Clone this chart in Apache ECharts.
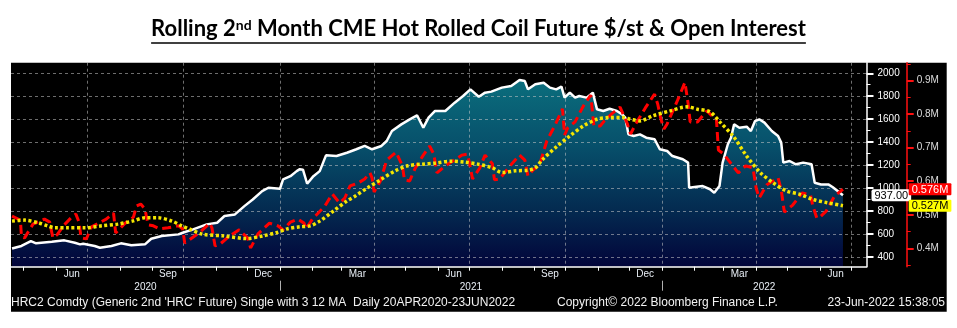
<!DOCTYPE html>
<html><head><meta charset="utf-8">
<script src="https://cdn.jsdelivr.net/npm/echarts@6/dist/echarts.min.js"></script>
<style>html,body{margin:0;padding:0;background:#fff}#c{width:957px;height:328px}</style>
</head><body><div id="c"></div>
<script>
// ---------- DATA ----------
const priceDates = ['2020-04-20','2020-04-29','2020-05-08','2020-05-13','2020-05-28','2020-06-09','2020-06-19','2020-06-24','2020-06-27','2020-07-08','2020-07-13','2020-07-24','2020-08-02','2020-08-12','2020-08-25','2020-08-31','2020-09-10','2020-09-26','2020-09-30','2020-10-10','2020-10-23','2020-11-02','2020-11-09','2020-11-19','2020-11-28','2020-12-06','2020-12-15','2020-12-21','2021-01-01','2021-01-04','2021-01-11','2021-01-17','2021-01-20','2021-01-23','2021-01-27','2021-02-02','2021-02-08','2021-02-14','2021-02-24','2021-03-06','2021-03-15','2021-03-23','2021-03-30','2021-04-08','2021-04-13','2021-04-18','2021-04-27','2021-05-05','2021-05-12','2021-05-18','2021-05-23','2021-05-29','2021-06-08','2021-06-17','2021-06-25','2021-07-02','2021-07-10','2021-07-16','2021-07-22','2021-08-01','2021-08-10','2021-08-18','2021-08-23','2021-08-26','2021-09-02','2021-09-10','2021-09-16','2021-09-22','2021-09-27','2021-09-30','2021-10-05','2021-10-10','2021-10-14','2021-10-21','2021-10-27','2021-10-31','2021-11-06','2021-11-12','2021-11-19','2021-11-24','2021-11-27','2021-11-30','2021-12-05','2021-12-11','2021-12-17','2021-12-25','2021-12-30','2022-01-06','2022-01-11','2022-01-21','2022-01-26','2022-01-27','2022-02-03','2022-02-09','2022-02-16','2022-02-20','2022-02-25','2022-02-28','2022-03-05','2022-03-08','2022-03-11','2022-03-16','2022-03-23','2022-03-27','2022-03-31','2022-04-04','2022-04-09','2022-04-16','2022-04-22','2022-04-25','2022-04-27','2022-05-03','2022-05-09','2022-05-16','2022-05-24','2022-05-27','2022-06-02','2022-06-09','2022-06-13','2022-06-18','2022-06-23'];
const priceValues = [474,496,539,519,533,545,524,510,516,496,481,496,519,502,510,559,583,597,611,641,684,698,757,771,843,901,974,1003,994,1076,1104,1148,1165,1160,1038,1104,1148,1285,1279,1308,1338,1367,1338,1367,1410,1497,1555,1599,1634,1526,1613,1671,1671,1744,1802,1860,1796,1831,1840,1875,1889,1941,1932,1860,1904,1918,1875,1860,1884,1788,1831,1788,1802,1788,1831,1686,1671,1691,1671,1642,1613,1468,1454,1468,1439,1425,1338,1323,1279,1251,1222,1004,1012,1018,990,959,1018,1222,1382,1439,1555,1526,1535,1497,1584,1599,1570,1497,1454,1396,1222,1236,1207,1222,1207,1047,1032,1032,1009,974,937];

const oiDates = ['2020-04-20','2020-04-28','2020-04-29','2020-05-02','2020-05-10','2020-05-21','2020-05-26','2020-05-29','2020-06-02','2020-06-08','2020-06-16','2020-06-20','2020-06-23','2020-06-25','2020-06-30','2020-07-05','2020-07-19','2020-07-26','2020-07-28','2020-08-01','2020-08-06','2020-08-14','2020-08-17','2020-08-21','2020-08-25','2020-08-28','2020-09-02','2020-09-08','2020-09-16','2020-09-26','2020-09-30','2020-10-02','2020-10-05','2020-10-17','2020-10-26','2020-10-28','2020-10-31','2020-11-05','2020-11-14','2020-11-23','2020-12-01','2020-12-04','2020-12-11','2020-12-22','2020-12-30','2021-01-04','2021-01-11','2021-01-18','2021-01-24','2021-01-26','2021-02-01','2021-02-13','2021-02-20','2021-02-27','2021-03-04','2021-03-09','2021-03-17','2021-03-23','2021-03-28','2021-03-30','2021-04-01','2021-04-07','2021-04-13','2021-04-22','2021-04-28','2021-04-30','2021-05-05','2021-05-10','2021-05-18','2021-05-24','2021-05-28','2021-05-31','2021-06-08','2021-06-24','2021-06-29','2021-07-01','2021-07-04','2021-07-11','2021-07-16','2021-07-23','2021-07-25','2021-07-30','2021-08-09','2021-08-18','2021-08-23','2021-08-26','2021-08-31','2021-09-06','2021-09-13','2021-09-21','2021-09-28','2021-09-30','2021-10-03','2021-10-10','2021-10-18','2021-10-25','2021-10-28','2021-11-03','2021-11-07','2021-11-14','2021-11-22','2021-11-29','2021-12-02','2021-12-07','2021-12-16','2021-12-25','2021-12-28','2021-12-31','2022-01-03','2022-01-06','2022-01-16','2022-01-23','2022-01-26','2022-01-28','2022-02-04','2022-02-13','2022-02-19','2022-02-22','2022-02-24','2022-03-01','2022-03-07','2022-03-15','2022-03-22','2022-03-29','2022-04-01','2022-04-04','2022-04-11','2022-04-22','2022-04-25','2022-04-28','2022-05-06','2022-05-15','2022-05-23','2022-05-25','2022-05-29','2022-06-01','2022-06-07','2022-06-15','2022-06-23'];
const oiValues = [0.496,0.484,0.434,0.431,0.472,0.487,0.478,0.431,0.440,0.467,0.493,0.502,0.478,0.431,0.428,0.464,0.487,0.505,0.446,0.458,0.475,0.493,0.526,0.532,0.517,0.470,0.467,0.458,0.461,0.467,0.458,0.416,0.422,0.449,0.475,0.461,0.407,0.413,0.437,0.455,0.431,0.401,0.443,0.475,0.467,0.455,0.478,0.487,0.475,0.458,0.487,0.526,0.562,0.535,0.550,0.586,0.595,0.607,0.625,0.610,0.568,0.601,0.663,0.687,0.646,0.604,0.601,0.637,0.678,0.705,0.681,0.625,0.646,0.678,0.681,0.657,0.607,0.640,0.678,0.652,0.604,0.607,0.646,0.678,0.663,0.616,0.634,0.648,0.720,0.768,0.816,0.738,0.759,0.777,0.825,0.857,0.765,0.765,0.780,0.801,0.821,0.771,0.741,0.771,0.818,0.860,0.830,0.786,0.756,0.771,0.842,0.895,0.833,0.777,0.777,0.810,0.792,0.789,0.693,0.681,0.657,0.625,0.646,0.640,0.580,0.550,0.589,0.610,0.574,0.508,0.529,0.565,0.559,0.529,0.490,0.493,0.511,0.556,0.576];

const maDates = ['2020-04-20','2020-05-02','2020-05-15','2020-05-24','2020-05-31','2020-06-12','2020-06-29','2020-07-15','2020-07-30','2020-08-13','2020-08-25','2020-09-06','2020-09-20','2020-09-29','2020-10-07','2020-10-19','2020-11-08','2020-11-30','2020-12-16','2020-12-29','2021-01-08','2021-01-20','2021-01-30','2021-02-08','2021-02-21','2021-03-06','2021-03-14','2021-03-26','2021-04-08','2021-04-21','2021-05-03','2021-05-17','2021-05-29','2021-06-14','2021-06-27','2021-07-09','2021-07-23','2021-08-01','2021-08-14','2021-08-26','2021-09-02','2021-09-09','2021-09-23','2021-10-05','2021-10-18','2021-10-31','2021-11-12','2021-11-25','2021-12-02','2021-12-11','2021-12-23','2022-01-09','2022-01-25','2022-02-04','2022-02-16','2022-02-26','2022-03-10','2022-03-23','2022-04-05','2022-04-17','2022-04-30','2022-05-13','2022-05-25','2022-06-08','2022-06-23'];
const maValues = [0.481,0.484,0.476,0.467,0.461,0.461,0.461,0.467,0.472,0.481,0.491,0.491,0.481,0.467,0.457,0.442,0.437,0.429,0.437,0.447,0.458,0.464,0.467,0.481,0.511,0.541,0.556,0.581,0.606,0.631,0.646,0.651,0.654,0.660,0.657,0.651,0.640,0.626,0.631,0.633,0.640,0.665,0.705,0.735,0.765,0.785,0.790,0.790,0.785,0.780,0.795,0.810,0.822,0.815,0.807,0.775,0.735,0.675,0.626,0.596,0.571,0.561,0.546,0.536,0.527];

// axis ticks / labels
const monthTicks = ['2020-05-01','2020-06-01','2020-07-01','2020-08-01','2020-09-01','2020-10-01','2020-11-01','2020-12-01','2021-01-01','2021-02-01','2021-03-01','2021-04-01','2021-05-01','2021-06-01','2021-07-01','2021-08-01','2021-09-01','2021-10-01','2021-11-01','2021-12-01','2022-01-01','2022-02-01','2022-03-01','2022-04-01','2022-05-01','2022-06-01','2022-07-01'];
const quarterLines = ['2020-07-01','2020-10-01','2021-01-01','2021-04-01','2021-07-01','2021-10-01','2022-01-01','2022-04-01','2022-07-01'];
const monthLabelDates = ['2020-06-16','2020-09-16','2020-12-16','2021-03-16','2021-06-16','2021-09-16','2021-12-16','2022-03-16','2022-06-16'];
const monthNames = ['Jan','Feb','Mar','Apr','May','Jun','Jul','Aug','Sep','Oct','Nov','Dec'];
const yearBounds = ['2021-01-01','2022-01-01'];
const yearLabels = ['2020','2021','2022'];
const priceTicks = [400,600,800,1000,1200,1400,1600,1800,2000];
const oiTicks = [0.4,0.5,0.6,0.7,0.8,0.9];

const titleParts = ['Rolling 2', 'nd', ' Month CME Hot Rolled Coil Future $/st & Open Interest'];
const footerLeft = "HRC2 Comdty (Generic 2nd 'HRC' Future) Single with 3 12 MA  Daily 20APR2020-23JUN2022";
const footerMid = 'Copyright\u00A9 2022 Bloomberg Finance L.P.';
const footerRight = '23-Jun-2022 15:38:05';

// ---------- LAYOUT ----------
const W = 957;
const ts = s => { const p = s.split('-'); return +new Date(+p[0], +p[1]-1, +p[2]); };
const xMin = +new Date(2020, 3, 19, 0, 0);
const xMax = +new Date(2022, 6, 15, 12, 0);
const yearEdges = [xMin].concat(yearBounds.map(ts)).concat([xMax]);
const yearMid = yearLabels.map((y, i) => (yearEdges[i] + yearEdges[i+1]) / 2);

const FONT = 'Liberation Sans';
const TFONT = 'Lato';
const T_SIZE = 22, S_SIZE = 14;
const GRIDC = 'rgba(200,200,200,0.55)';
const FOOT_FONT = '12px "' + FONT + '"';

const ctx = document.createElement('canvas').getContext('2d');
ctx.font = 'bold ' + T_SIZE + 'px ' + TFONT;
let tw = ctx.measureText(titleParts[0]).width + ctx.measureText(titleParts[2]).width;
ctx.font = 'bold ' + S_SIZE + 'px ' + TFONT;
tw += ctx.measureText(titleParts[1]).width;

const pricePts = priceDates.map((d, i) => [ts(d), priceValues[i]]);
const oiPts = oiDates.map((d, i) => [ts(d), oiValues[i]]);
const maPts = maDates.map((d, i) => [ts(d), maValues[i]]);

const chart = echarts.init(document.getElementById('c'), null, {renderer: 'canvas'});

const xBase = () => ({type: 'value', min: xMin, max: xMax, gridIndex: 0, scale: true});

chart.setOption({
  animation: false,
  backgroundColor: '#ffffff',
  textStyle: {fontFamily: FONT},
  title: {
    text: '{a|' + titleParts[0] + '}{s|' + titleParts[1] + '}{a|' + titleParts[2] + '}',
    left: 'center', top: 18, padding: 0,
    textStyle: {
      rich: {
        a: {fontFamily: TFONT, fontWeight: 'bold', fontSize: T_SIZE, color: '#000'},
        s: {fontFamily: TFONT, fontWeight: 'bold', fontSize: S_SIZE, color: '#000', verticalAlign: 'top'}
      }
    }
  },
  graphic: [
    {type: 'rect', z: -100, silent: true, shape: {x: 11, y: 62.7, width: 935.7, height: 249}, style: {fill: '#000'}},
    {type: 'line', silent: true, shape: {x1: W/2 - tw/2, y1: 43, x2: W/2 + tw/2, y2: 43}, style: {stroke: '#000', lineWidth: 1.6}},
    {type: 'text', silent: true, left: 11, top: 297, style: {text: footerLeft, fill: '#f2f2f2', font: FOOT_FONT}},
    {type: 'text', silent: true, left: 557, top: 297, style: {text: footerMid, fill: '#f2f2f2', font: FOOT_FONT}},
    {type: 'text', silent: true, right: 12, top: 297, style: {text: footerRight, fill: '#f2f2f2', font: FOOT_FONT}}
  ],
  grid: {left: 11, right: 90.5, top: 62.7, bottom: 61.3, show: false},
  xAxis: [
    Object.assign(xBase(), {
      z: 3,
      axisLine: {show: true, onZero: false, lineStyle: {color: '#fff', width: 1.5}},
      axisTick: {show: true, customValues: monthTicks.map(ts), length: 4, lineStyle: {color: '#fff', width: 1}},
      axisLabel: {show: true, customValues: monthLabelDates.map(ts), formatter: v => monthNames[new Date(v).getMonth()],
                  color: '#e8eef5', fontSize: 10, margin: 3, hideOverlap: false},
      splitLine: {show: false}
    }),
    Object.assign(xBase(), {
      z: 2,
      axisLine: {show: false},
      axisTick: {show: false, customValues: quarterLines.map(ts)},
      axisLabel: {show: false, customValues: quarterLines.map(ts)},
      splitLine: {show: true, customValues: quarterLines.map(ts), lineStyle: {color: GRIDC, type: [3, 3], width: 1}}
    }),
    Object.assign(xBase(), {
      position: 'bottom', offset: 14,
      axisLine: {show: false},
      axisTick: {show: true, customValues: yearBounds.map(ts), length: 10, lineStyle: {color: '#b0b0b0', width: 1}},
      axisLabel: {show: true, customValues: yearMid, formatter: v => String(new Date(v).getFullYear()),
                  color: '#e8eef5', fontSize: 10, margin: 1.5, hideOverlap: false},
      splitLine: {show: false}
    })
  ],
  yAxis: [
    {
      type: 'value', position: 'right', min: 315.5, max: 2092, splitNumber: 9, z: 2, scale: true,
      axisLine: {show: true, lineStyle: {color: '#fff', width: 1.5}},
      axisTick: {show: true, customValues: priceTicks, length: 7, lineStyle: {color: '#fff', width: 2}},
      minorTick: {show: true, splitNumber: 2, length: 4, lineStyle: {color: '#fff', width: 1}},
      axisLabel: {show: true, customValues: priceTicks, formatter: v => String(v), color: '#fff', fontSize: 10, margin: 11},
      splitLine: {show: true, customValues: priceTicks, lineStyle: {color: GRIDC, type: [3, 3], width: 1}},
      axisPointer: {
        show: true, type: 'line', status: 'show', value: priceValues[priceValues.length - 1],
        triggerTooltip: false, lineStyle: {opacity: 0, width: 0},
        label: {show: true, formatter: p => Number(p.value).toFixed(2), backgroundColor: '#fff', color: '#000',
                fontSize: 11, padding: [1, 3, 0, 3], borderRadius: 2, margin: 5}
      }
    },
    {
      type: 'value', position: 'right', offset: 40.2, min: 0.345, max: 0.9537, splitNumber: 6, scale: true,
      axisLine: {show: true, lineStyle: {color: '#ff1010', width: 1.5}},
      axisTick: {show: true, customValues: oiTicks, length: 7, lineStyle: {color: '#ff1010', width: 2}},
      minorTick: {show: true, splitNumber: 2, length: 4, lineStyle: {color: '#ff1010', width: 1}},
      axisLabel: {show: true, customValues: oiTicks, formatter: v => v.toFixed(1) + 'M', color: '#dcdcdc', fontSize: 10, margin: 10},
      splitLine: {show: false},
      axisPointer: {
        show: true, type: 'line', status: 'show', value: oiValues[oiValues.length - 1],
        triggerTooltip: false, lineStyle: {opacity: 0, width: 0},
        label: {show: true, formatter: p => Number(p.value).toFixed(3) + 'M', backgroundColor: '#ff0000', color: '#fff',
                fontSize: 11, padding: [1, 3, 0, 3], borderRadius: 1, margin: 2}
      }
    },
    {
      type: 'value', position: 'right', offset: 40.2, min: 0.345, max: 0.9537, splitNumber: 6, scale: true,
      axisLine: {show: false}, axisTick: {show: false}, axisLabel: {show: false}, splitLine: {show: false},
      axisPointer: {
        show: true, type: 'line', status: 'show', value: maValues[maValues.length - 1],
        triggerTooltip: false, lineStyle: {opacity: 0, width: 0},
        label: {show: true, formatter: p => Number(p.value).toFixed(3) + 'M', backgroundColor: '#ffff00', color: '#000',
                fontSize: 11, padding: [1, 3, 0, 3], borderRadius: 1, margin: 2}
      }
    }
  ],
  series: [
    {
      name: 'HRC area', type: 'line', xAxisIndex: 0, yAxisIndex: 0, data: pricePts, z: 1,
      showSymbol: false, silent: true, lineStyle: {width: 0, opacity: 0},
      areaStyle: {
        opacity: 1,
        color: new echarts.graphic.LinearGradient(0, 0, 0, 1, [
          {offset: 0, color: '#0b6e7d'},
          {offset: 0.35, color: '#07506b'},
          {offset: 0.7, color: '#042a50'},
          {offset: 1, color: '#02043a'}
        ])
      }
    },
    {
      name: 'HRC2', type: 'line', xAxisIndex: 0, yAxisIndex: 0, data: pricePts, z: 4,
      showSymbol: false, silent: true, lineStyle: {color: '#ffffff', width: 2.5}
    },
    {
      name: 'Open Interest', type: 'line', xAxisIndex: 0, yAxisIndex: 1, data: oiPts, z: 5,
      showSymbol: false, silent: true, lineStyle: {color: '#ff0000', width: 3, type: [9, 5]}
    },
    {
      name: 'OI MA', type: 'line', xAxisIndex: 0, yAxisIndex: 1, data: maPts, z: 6, smooth: 0.3,
      showSymbol: false, silent: true, lineStyle: {color: '#f5e600', width: 3.5, type: [3, 2.5]}
    }
  ]
});
</script>
</body></html>
